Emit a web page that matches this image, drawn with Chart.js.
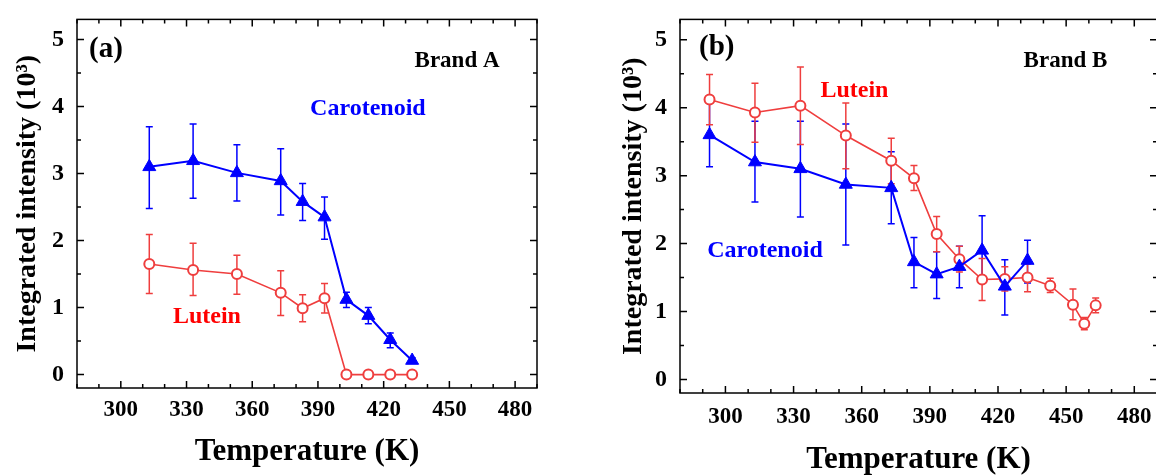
<!DOCTYPE html>
<html>
<head>
<meta charset="utf-8">
<script src="https://cdn.jsdelivr.net/npm/chart.js@4.4.1/dist/chart.umd.min.js"></script>
<style>
  html, body { margin: 0; padding: 0; background: #fff; overflow: hidden; }
  #wrap { position: relative; width: 1156px; height: 475px; overflow: hidden; }
  canvas { position: absolute; top: 0; }
</style>
</head>
<body>
<div id="wrap">
  <canvas id="chartA" width="560" height="475" style="left:0"></canvas>
  <canvas id="chartB" width="610" height="475" style="left:560px"></canvas>
</div>
<script>
// ---- data, panel (a) Brand A
const tempA = [313, 333, 353, 373, 383, 393, 403, 413, 423, 433];
const carA = [3.10, 3.19, 3.01, 2.89, 2.58, 2.35, 1.12, 0.88, 0.52, 0.21];
const carAHi = [3.70, 3.74, 3.43, 3.37, 2.85, 2.65, 1.23, 1.00, 0.62, 0.25];
const carALo = [2.48, 2.63, 2.59, 2.38, 2.30, 2.02, 1.00, 0.76, 0.40, 0.17];
const lutA = [1.65, 1.56, 1.50, 1.22, 0.99, 1.14, 0, 0, 0, 0];
const lutAHi = [2.09, 1.96, 1.78, 1.55, 1.19, 1.36, 0, 0, 0, 0];
const lutALo = [1.21, 1.18, 1.20, 0.88, 0.79, 0.92, 0, 0, 0, 0];

// ---- data, panel (b) Brand B
const tempBCar = [293, 313, 333, 353, 373, 383, 393, 403, 413, 423, 433];
const carB = [3.60, 3.20, 3.10, 2.87, 2.82, 1.73, 1.55, 1.66, 1.90, 1.37, 1.75];
const carBHi = [4.07, 3.80, 3.80, 3.76, 3.35, 2.09, 1.88, 1.96, 2.41, 1.76, 2.05];
const carBLo = [3.13, 2.61, 2.39, 1.98, 2.29, 1.35, 1.19, 1.35, 1.52, 0.95, 1.42];
const tempBLut = [293, 313, 333, 353, 373, 383, 393, 403, 413, 423, 433, 443, 453, 458, 463];
const lutB = [4.12, 3.93, 4.03, 3.59, 3.22, 2.96, 2.14, 1.77, 1.47, 1.48, 1.50, 1.38, 1.10, 0.82, 1.09];
const lutBHi = [4.49, 4.36, 4.60, 4.07, 3.55, 3.15, 2.40, 1.96, 1.78, 1.66, 1.70, 1.49, 1.33, 0.91, 1.20];
const lutBLo = [3.75, 3.49, 3.46, 3.10, 2.88, 2.78, 1.88, 1.58, 1.16, 1.30, 1.29, 1.28, 0.88, 0.73, 0.98];

// axes: tick marks every 10 K / 0.5, labels on the majors only
const xMin = 280, xMax = 490;
const xTicks = [280, 290, 300, 310, 320, 330, 340, 350, 360, 370, 380, 390, 400, 410, 420, 430, 440, 450, 460, 470, 480, 490];
const xLabels = [300, 330, 360, 390, 420, 450, 480];
const yMin = -0.2, yMax = 5.3;
const yTicks = [0, 0.5, 1, 1.5, 2, 2.5, 3, 3.5, 4, 4.5, 5];
const yLabels = [0, 1, 2, 3, 4, 5];

const BLUE = '#0000ff';
const RED = '#ef3e3e';
const FONT = "'Liberation Serif', 'DejaVu Serif', serif";

const pts = (xs, ys) => xs.map((x, i) => ({ x: x, y: ys[i] }));

// error bars, frame, inward ticks and the panel texts
const panelPlugin = {
    id: 'panel',
    beforeDatasetsDraw(chart) {
        const { ctx, scales: { x, y } } = chart;
        chart.data.datasets.forEach(ds => {
            ctx.save();
            ctx.strokeStyle = ds.borderColor;
            ctx.lineWidth = 1.5;
            ds.data.forEach((p, i) => {
                const px = x.getPixelForValue(p.x);
                const t = y.getPixelForValue(ds.errHi[i]);
                const b = y.getPixelForValue(ds.errLo[i]);
                if (Math.abs(b - t) < 1) return;
                ctx.beginPath();
                ctx.moveTo(px, t); ctx.lineTo(px, b);
                ctx.moveTo(px - 3.5, t); ctx.lineTo(px + 3.5, t);
                ctx.moveTo(px - 3.5, b); ctx.lineTo(px + 3.5, b);
                ctx.stroke();
            });
            ctx.restore();
        });
    },
    afterDraw(chart, args, opts) {
        const { ctx, chartArea: a, scales: { x, y } } = chart;
        ctx.save();
        ctx.strokeStyle = '#000';
        ctx.lineWidth = 1.5;
        ctx.strokeRect(a.left, a.top, a.right - a.left, a.bottom - a.top);
        ctx.beginPath();
        x.ticks.forEach(t => {
            const px = x.getPixelForValue(t.value);
            const len = xLabels.includes(t.value) ? 7 : 4;
            ctx.moveTo(px, a.bottom); ctx.lineTo(px, a.bottom - len);
            ctx.moveTo(px, a.top); ctx.lineTo(px, a.top + len);
        });
        y.ticks.forEach(t => {
            const py = y.getPixelForValue(t.value);
            const len = yLabels.includes(t.value) ? 7 : 4;
            ctx.moveTo(a.left, py); ctx.lineTo(a.left + len, py);
            ctx.moveTo(a.right, py); ctx.lineTo(a.right - len, py);
        });
        ctx.stroke();

        ctx.textBaseline = 'middle';
        opts.texts.forEach(tx => {
            ctx.font = 'bold ' + tx.size + 'px ' + FONT;
            ctx.fillStyle = tx.color;
            ctx.textAlign = tx.align || 'center';
            ctx.fillText(tx.text, x.getPixelForValue(tx.x), y.getPixelForValue(tx.y));
        });
        ctx.restore();
    }
};

function makeChart(id, datasets, texts, lay) {
    return new Chart(document.getElementById(id), {
        type: 'scatter',
        data: { datasets: datasets },
        options: {
            responsive: false,
            animation: false,
            devicePixelRatio: 1,
            layout: { padding: { left: 0, top: lay.top, right: lay.right, bottom: 0 } },
            plugins: { legend: { display: false }, tooltip: { enabled: false }, panel: { texts: texts } },
            scales: {
                x: {
                    type: 'linear', min: xMin, max: xMax,
                    grid: { display: false }, border: { display: false },
                    afterBuildTicks: s => { s.ticks = xTicks.map(v => ({ value: v })); },
                    afterFit: s => { s.height = lay.xh; },
                    ticks: {
                        autoSkip: false, maxRotation: 0, padding: lay.xpad,
                        color: '#000', font: { family: FONT, size: 23, weight: 'bold' },
                        callback: v => xLabels.includes(v) ? v : ''
                    },
                    title: {
                        display: true, text: 'Temperature (K)', color: '#000',
                        font: { family: FONT, size: 31, weight: 'bold', lineHeight: 1 },
                        padding: { top: 0, bottom: lay.xtb }
                    }
                },
                y: {
                    type: 'linear', min: yMin, max: yMax,
                    grid: { display: false }, border: { display: false },
                    afterBuildTicks: s => { s.ticks = yTicks.map(v => ({ value: v })); },
                    afterFit: s => { s.width = lay.yw; },
                    ticks: {
                        autoSkip: false, padding: 5,
                        color: '#000', font: { family: FONT, size: 24, weight: 'bold' },
                        callback: v => yLabels.includes(v) ? v : ''
                    },
                    title: {
                        display: true, text: 'Integrated intensity (10³)', color: '#000',
                        font: { family: FONT, size: 28, weight: 'bold', lineHeight: 1 },
                        padding: { top: lay.ytp, bottom: 0 }
                    }
                }
            }
        },
        plugins: [panelPlugin]
    });
}

function series(label, xs, ys, hi, lo, color, style) {
    const tri = style === 'triangle';
    return {
        label: label,
        data: pts(xs, ys),
        errHi: hi, errLo: lo,
        showLine: true,
        borderColor: color,
        borderWidth: tri ? 2 : 1.6,
        pointStyle: tri ? 'triangle' : 'circle',
        pointRadius: tri ? 7.5 : 5,
        pointBorderWidth: tri ? 1 : 2,
        pointBackgroundColor: tri ? color : '#fff',
        pointBorderColor: color,
        order: tri ? 0 : 1
    };
}

makeChart('chartA', [
    series('Carotenoid', tempA, carA, carAHi, carALo, BLUE, 'triangle'),
    series('Lutein', tempA, lutA, lutAHi, lutALo, RED, 'circle')
], [
    { text: '(a)', x: 285.5, y: 4.85, size: 29, color: '#000', align: 'left' },
    { text: 'Brand A', x: 453.5, y: 4.68, size: 23, color: '#000' },
    { text: 'Carotenoid', x: 412.8, y: 3.96, size: 24, color: BLUE },
    { text: 'Lutein', x: 339.3, y: 0.86, size: 24, color: '#ff0000' }
], { top: 18, right: 23, xh: 87, yw: 77, xpad: 0, xtb: 8, ytp: 14 });

makeChart('chartB', [
    series('Carotenoid', tempBCar, carB, carBHi, carBLo, BLUE, 'triangle'),
    series('Lutein', tempBLut, lutB, lutBHi, lutBLo, RED, 'circle')
], [
    { text: '(b)', x: 288.4, y: 4.88, size: 29, color: '#000', align: 'left' },
    { text: 'Brand B', x: 449.7, y: 4.69, size: 23, color: '#000' },
    { text: 'Lutein', x: 356.8, y: 4.25, size: 24, color: '#ff0000' },
    { text: 'Carotenoid', x: 317.4, y: 1.90, size: 24, color: BLUE }
], { top: 11, right: 13, xh: 82, yw: 120, xpad: 2, xtb: 0, ytp: 60 });
</script>
</body>
</html>
